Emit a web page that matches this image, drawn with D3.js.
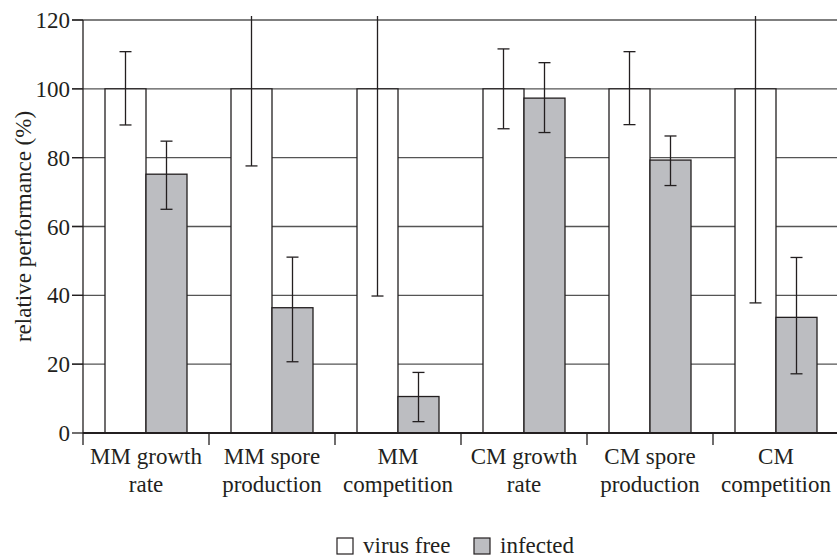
<!DOCTYPE html>
<html>
<head>
    <meta charset="UTF-8">
    <style>
        svg text { font-family: "Liberation Serif", Tinos, "Times New Roman", Times, serif; }
    </style>
</head>
<body style="margin:0; background:#fff;">
<svg height="557" width="837" font-family="Liberation Serif, serif"></svg>

<script src="https://d3js.org/d3.v7.min.js"></script>
<script>

    // chart values
    var categories = [
        ["MM growth", "rate"],
        ["MM spore", "production"],
        ["MM", "competition"],
        ["CM growth", "rate"],
        ["CM spore", "production"],
        ["CM", "competition"]
    ];
    var seriesNames = ["virus free", "infected"];
    var virusFree     = [100, 100, 100, 100, 100, 100];
    var virusFreeLow  = [89.5, 77.6, 39.8, 88.4, 89.6, 37.8];
    var virusFreeHigh = [110.8, 122.4, 160.2, 111.6, 110.8, 162.2];
    var infected      = [75.2, 36.4, 10.6, 97.3, 79.3, 33.6];
    var infectedLow   = [65.0, 20.7, 3.3, 87.3, 71.9, 17.2];
    var infectedHigh  = [84.8, 51.1, 17.6, 107.6, 86.3, 51.0];
    var yTicks = [0, 20, 40, 60, 80, 100, 120];

    var svg = d3.select("svg"),
        margin = {top: 20, left: 83, bottom: 433, right: 839};

    var serifFont = "Liberation Serif",
        lineColor = "#231f20",
        gridColor = "#555555",
        greyFill = "#bcbdc1";

    var x = d3.scaleBand().domain(d3.range(categories.length)).range([margin.left, margin.right]);
    var xInner = d3.scaleBand().domain(seriesNames).range([22, x.bandwidth() - 22]);
    var y = d3.scaleLinear().domain([0, 120]).range([margin.bottom, margin.top]);

    var flat = [];
    categories.forEach(function(c, i) {
        flat.push({cat: i, series: "virus free", value: virusFree[i], low: virusFreeLow[i], high: virusFreeHigh[i]});
        flat.push({cat: i, series: "infected", value: infected[i], low: infectedLow[i], high: infectedHigh[i]});
    });

    // clip so that the long error bars stop just above the top gridline
    svg.append("defs").append("clipPath").attr("id", "plotclip")
        .append("rect").attr("x", 0).attr("y", margin.top - 4)
        .attr("width", 837).attr("height", 557);

    // gridlines
    svg.append("g").selectAll("line")
        .data(yTicks.filter(function(d) { return d > 0; }))
        .enter().append("line")
        .attr("x1", margin.left - 11)
        .attr("x2", 837)
        .attr("y1", function(d) { return y(d); })
        .attr("y2", function(d) { return y(d); })
        .attr("stroke", gridColor)
        .attr("stroke-width", 1.3);

    // bars
    svg.append("g").selectAll("rect")
        .data(flat)
        .enter().append("rect")
        .attr("x", function(d) { return x(d.cat) + xInner(d.series); })
        .attr("y", function(d) { return y(d.value); })
        .attr("width", xInner.bandwidth())
        .attr("height", function(d) { return y(0) - y(d.value); })
        .attr("fill", function(d) { return d.series == "infected" ? greyFill : "#ffffff"; })
        .attr("stroke", lineColor)
        .attr("stroke-width", 1.3);

    // error bars
    var err = svg.append("g").attr("clip-path", "url(#plotclip)")
        .selectAll("g").data(flat).enter().append("g")
        .attr("transform", function(d) {
            return "translate(" + (x(d.cat) + xInner(d.series) + xInner.bandwidth() / 2) + ",0)";
        });
    err.append("line")
        .attr("y1", function(d) { return y(d.low); })
        .attr("y2", function(d) { return y(d.high); })
        .attr("stroke", lineColor).attr("stroke-width", 1.3);
    err.selectAll(".cap")
        .data(function(d) { return [d.low, d.high]; })
        .enter().append("line")
        .attr("class", "cap")
        .attr("x1", -6).attr("x2", 6)
        .attr("y1", function(v) { return y(v); })
        .attr("y2", function(v) { return y(v); })
        .attr("stroke", lineColor).attr("stroke-width", 1.3);

    // y axis
    svg.append("g").selectAll("line")
        .data(yTicks)
        .enter().append("line")
        .attr("x1", margin.left - 11).attr("x2", margin.left)
        .attr("y1", function(d) { return y(d); })
        .attr("y2", function(d) { return y(d); })
        .attr("stroke", lineColor).attr("stroke-width", 1.3);
    svg.append("g").selectAll("text")
        .data(yTicks)
        .enter().append("text")
        .attr("x", margin.left - 13)
        .attr("y", function(d) { return y(d) + 8; })
        .attr("text-anchor", "end")
        .attr("font-family", serifFont)
        .style("font-family", serifFont)
        .style("font-size", "23px")
        .style("fill", lineColor)
        .text(function(d) { return d; });
    svg.append("line")
        .attr("x1", margin.left).attr("x2", margin.left)
        .attr("y1", margin.top).attr("y2", margin.bottom + 12)
        .attr("stroke", lineColor).attr("stroke-width", 1.3);

    // x axis
    svg.append("line")
        .attr("x1", margin.left).attr("x2", 837)
        .attr("y1", y(0)).attr("y2", y(0))
        .attr("stroke", lineColor).attr("stroke-width", 2.2);
    svg.append("g").selectAll("line")
        .data(d3.range(1, categories.length))
        .enter().append("line")
        .attr("x1", function(i) { return x(i); })
        .attr("x2", function(i) { return x(i); })
        .attr("y1", y(0)).attr("y2", y(0) + 12)
        .attr("stroke", lineColor).attr("stroke-width", 1.3);

    // category labels, one text per line
    categories.forEach(function(lines, i) {
        svg.append("g").selectAll("text")
            .data(lines)
            .enter().append("text")
            .attr("x", x(i) + x.bandwidth() / 2)
            .attr("y", function(d, k) { return 464 + k * 28; })
            .attr("text-anchor", "middle")
            .attr("font-family", serifFont)
            .style("font-family", serifFont)
            .style("font-size", "23px")
            .style("fill", lineColor)
            .text(function(d) { return d; });
    });

    // y label
    svg.append("text")
        .attr("transform", "translate(31," + (margin.top + margin.bottom) / 2 + ") rotate(-90)")
        .attr("text-anchor", "middle")
        .attr("font-family", serifFont)
        .style("font-family", serifFont)
        .style("font-size", "23px")
        .style("fill", lineColor)
        .text("relative performance (%)");

    // legend
    var legendX = [337, 474];
    var legend = svg.append("g").selectAll("g")
        .data(seriesNames)
        .enter().append("g")
        .attr("transform", function(d, i) { return "translate(" + legendX[i] + ",538)"; });
    legend.append("rect")
        .attr("width", 16).attr("height", 16)
        .attr("fill", function(d) { return d == "infected" ? greyFill : "#ffffff"; })
        .attr("stroke", lineColor).attr("stroke-width", 1.2);
    legend.append("text")
        .attr("x", 26).attr("y", 15)
        .attr("font-family", serifFont)
        .style("font-family", serifFont)
        .style("font-size", "23px")
        .style("fill", lineColor)
        .text(function(d) { return d; });

</script>
</body>
</html>
